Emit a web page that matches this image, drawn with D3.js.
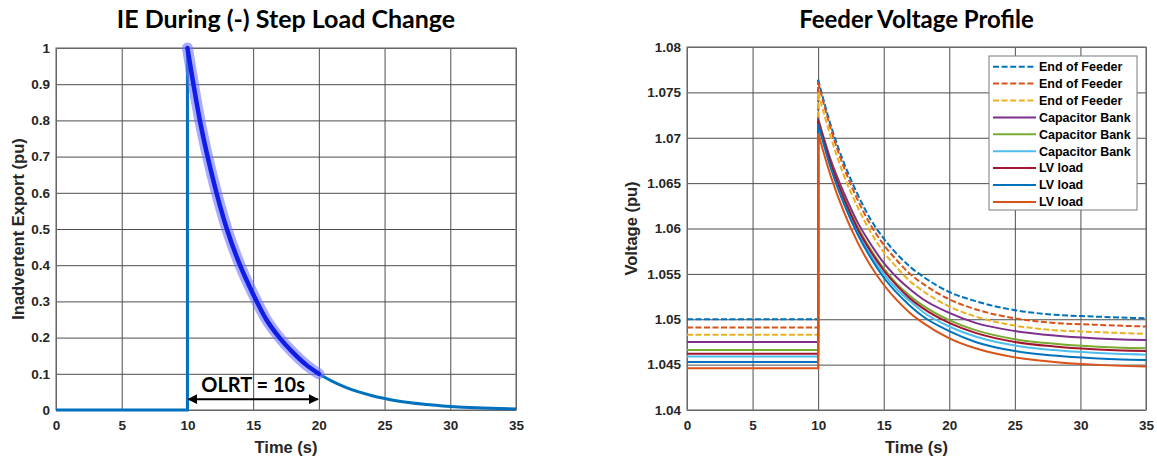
<!DOCTYPE html>
<html>
<head>
<meta charset="utf-8">
<script src="https://cdn.jsdelivr.net/npm/d3@7"></script>
<style>
  body { margin: 0; background: #fff; }
  .tick text { font-family: "Liberation Sans", Arial, sans-serif; font-weight: bold; font-size: 13.5px; fill: #262626; }
  .grid line { stroke: #4d4d4d; stroke-width: 1; }
  .title { font-family: Lato, "Open Sans", sans-serif; font-weight: bold; fill: #000; }
  .axis-label { font-family: "Liberation Sans", Arial, sans-serif; font-weight: bold; font-size: 16.5px; fill: #262626; }
  .legend text { font-family: "Liberation Sans", Arial, sans-serif; font-weight: bold; font-size: 12.5px; fill: #000; }
</style>
</head>
<body>
<div id="canvas"></div>
<script>
// ---- data ----
var xTicks = [0, 5, 10, 15, 20, 25, 30, 35];
var ieTicks = [0, 0.1, 0.2, 0.3, 0.4, 0.5, 0.6, 0.7, 0.8, 0.9, 1];
var vTicks = [1.04, 1.045, 1.05, 1.055, 1.06, 1.065, 1.07, 1.075, 1.08];

// inadvertent export: flat then step at t=10, decay afterwards
var ieStepTimes = [0, 10];
var ieStepValues = [0, 0];
var ieDecayTimes = [10, 11, 12, 13, 14, 15, 16, 17, 18, 19, 20, 22, 24, 26, 28, 30, 32, 35];
var ieDecayValues = [1, 0.79, 0.63, 0.50, 0.40, 0.32, 0.25, 0.20, 0.16, 0.126, 0.10, 0.063, 0.04, 0.025, 0.016, 0.01, 0.006, 0.003];
var olrtStart = 10, olrtEnd = 20;

// feeder voltages
var vStepTimes = [0, 10];
var vDecayTimes = [10, 11, 12, 13, 14, 15, 16, 17, 18, 20, 22, 25, 28, 31, 35];
var seriesNames = ["End of Feeder", "End of Feeder", "End of Feeder",
                   "Capacitor Bank", "Capacitor Bank", "Capacitor Bank",
                   "LV load", "LV load", "LV load"];
var vBase = [1.0500, 1.0491, 1.0483, 1.0475, 1.0466, 1.0459, 1.0462, 1.0453, 1.0446];
var vEoF1 = [1.0764, 1.0712, 1.0671, 1.0638, 1.0610, 1.0589, 1.0572, 1.0558, 1.0547, 1.0530, 1.0520, 1.0510, 1.0505, 1.0503, 1.0501];
var vEoF2 = [1.0761, 1.0708, 1.0666, 1.0632, 1.0604, 1.0582, 1.0565, 1.0550, 1.0539, 1.0522, 1.0511, 1.0501, 1.0496, 1.0494, 1.0492];
var vEoF3 = [1.0750, 1.0699, 1.0657, 1.0624, 1.0596, 1.0574, 1.0557, 1.0542, 1.0531, 1.0514, 1.0503, 1.0493, 1.0488, 1.0486, 1.0484];
var vCap1 = [1.0721, 1.0674, 1.0638, 1.0607, 1.0583, 1.0562, 1.0546, 1.0533, 1.0522, 1.0507, 1.0496, 1.0487, 1.0482, 1.0479, 1.0477];
var vCap2 = [1.0719, 1.0671, 1.0633, 1.0602, 1.0577, 1.0556, 1.0539, 1.0526, 1.0515, 1.0499, 1.0488, 1.0478, 1.0473, 1.0470, 1.0468];
var vCap3 = [1.0716, 1.0667, 1.0629, 1.0597, 1.0571, 1.0550, 1.0533, 1.0520, 1.0508, 1.0492, 1.0481, 1.0471, 1.0466, 1.0463, 1.0461];
var vLv1 = [1.0719, 1.0671, 1.0632, 1.0600, 1.0575, 1.0554, 1.0537, 1.0523, 1.0512, 1.0496, 1.0485, 1.0475, 1.0470, 1.0467, 1.0465];
var vLv2 = [1.0715, 1.0665, 1.0626, 1.0594, 1.0568, 1.0546, 1.0529, 1.0515, 1.0503, 1.0487, 1.0475, 1.0465, 1.0460, 1.0457, 1.0455];
var vLv3 = [1.0705, 1.0656, 1.0617, 1.0585, 1.0559, 1.0538, 1.0521, 1.0507, 1.0496, 1.0479, 1.0468, 1.0458, 1.0453, 1.0450, 1.0448];
var vSeries = [vEoF1, vEoF2, vEoF3, vCap1, vCap2, vCap3, vLv1, vLv2, vLv3];

var seriesColors = ["#0072BD", "#D95319", "#EDB120", "#7E2F8E", "#77AC30", "#4DBEEE", "#A2142F", "#0072BD", "#D95319"];
var seriesDashed = [true, true, true, false, false, false, false, false, false];

function zip(xs, ys) {
    return xs.map(function (t, i) { return [t, ys[i]]; });
}

var svg = d3.select("#canvas").append("svg")
    .attr("width", 1157)
    .attr("height", 460);

svg.append("defs").append("marker")
    .attr("id", "arrow")
    .attr("viewBox", "0 0 10 10")
    .attr("refX", 9)
    .attr("refY", 5)
    .attr("markerWidth", 10)
    .attr("markerHeight", 10)
    .attr("markerUnits", "userSpaceOnUse")
    .attr("orient", "auto-start-reverse")
    .append("path")
    .attr("d", "M0,0 L10,5 L0,10 Z")
    .attr("fill", "#000");

function AddPanel(left, top, right, bottom, yDomain, yTickVals, title, titleSize, yLabel, yLabelOffset) {
    var w = right - left, h = bottom - top;
    var g = svg.append("g").attr("transform", "translate(" + left + "," + top + ")");
    var x = d3.scaleLinear().domain([0, 35]).range([0, w]);
    var y = d3.scaleLinear().domain(yDomain).range([h, 0]);
    var fmt = function (d) { return String(+d.toFixed(4)); };

    g.append("g")
        .attr("class", "grid")
        .attr("transform", "translate(0," + h + ")")
        .call(d3.axisBottom(x).tickValues(xTicks).tickSizeInner(-h).tickSizeOuter(0).tickPadding(10).tickFormat(fmt))
        .call(function (a) { a.select(".domain").remove(); });
    g.append("g")
        .attr("class", "grid")
        .call(d3.axisLeft(y).tickValues(yTickVals).tickSizeInner(-w).tickSizeOuter(0).tickPadding(6).tickFormat(fmt))
        .call(function (a) { a.select(".domain").remove(); });

    g.append("rect")
        .attr("width", w)
        .attr("height", h)
        .attr("fill", "none")
        .attr("stroke", "#7a7a7a")
        .attr("stroke-width", 1.2);

    svg.append("text")
        .attr("class", "title")
        .attr("x", left + w / 2)
        .attr("y", 28)
        .attr("text-anchor", "middle")
        .style("font-size", titleSize + "px")
        .text(title);
    g.append("text")
        .attr("class", "axis-label")
        .attr("x", w / 2)
        .attr("y", h + 43)
        .attr("text-anchor", "middle")
        .text("Time (s)");
    g.append("text")
        .attr("class", "axis-label")
        .attr("transform", "translate(" + yLabelOffset + "," + (h / 2) + ") rotate(-90)")
        .attr("text-anchor", "middle")
        .text(yLabel);

    var plot = g.append("g");
    return { g: plot, x: x, y: y };
}

// ---- left panel ----
var p1 = AddPanel(56, 48, 516, 410, [0, 1], ieTicks, "IE During (-) Step Load Change", 25, "Inadvertent Export (pu)", -32);
var lin1 = d3.line().x(function (d) { return p1.x(d[0]); }).y(function (d) { return p1.y(d[1]); });
var crv1 = d3.line().curve(d3.curveMonotoneX).x(function (d) { return p1.x(d[0]); }).y(function (d) { return p1.y(d[1]); });

var stepPts = zip(ieStepTimes, ieStepValues).concat([[ieDecayTimes[0], ieDecayValues[0]]]);
var decayPts = zip(ieDecayTimes, ieDecayValues);
p1.g.append("path").attr("d", lin1(stepPts))
    .attr("fill", "none").attr("stroke", "#0072BD").attr("stroke-width", 3);
p1.g.append("path").attr("d", crv1(decayPts))
    .attr("fill", "none").attr("stroke", "#0072BD").attr("stroke-width", 3);

var hiPts = decayPts.filter(function (d) { return d[0] >= olrtStart && d[0] <= olrtEnd; });
p1.g.append("path").attr("d", crv1(hiPts))
    .attr("fill", "none").attr("stroke", "#7373ff").attr("stroke-opacity", 0.6)
    .attr("stroke-width", 11).attr("stroke-linecap", "round");
p1.g.append("path").attr("d", crv1(hiPts))
    .attr("fill", "none").attr("stroke", "#0f1ee6")
    .attr("stroke-width", 4.5).attr("stroke-linecap", "round");

p1.g.append("line")
    .attr("x1", p1.x(olrtStart) + 1).attr("x2", p1.x(olrtEnd) - 1)
    .attr("y1", p1.y(0.03)).attr("y2", p1.y(0.03))
    .attr("stroke", "#000").attr("stroke-width", 2)
    .attr("marker-start", "url(#arrow)").attr("marker-end", "url(#arrow)");
p1.g.append("text")
    .attr("x", p1.x((olrtStart + olrtEnd) / 2))
    .attr("y", p1.y(0.05))
    .attr("text-anchor", "middle")
    .style("font-family", "Lato, 'Open Sans', sans-serif")
    .style("font-weight", "bold")
    .style("font-size", "20px")
    .text("OLRT = " + (olrtEnd - olrtStart) + "s");

// ---- right panel ----
var p2 = AddPanel(687, 47, 1146, 410, [1.04, 1.08], vTicks, "Feeder Voltage Profile", 24, "Voltage (pu)", -50);
var lin2 = d3.line().x(function (d) { return p2.x(d[0]); }).y(function (d) { return p2.y(d[1]); });
var crv2 = d3.line().curve(d3.curveMonotoneX).x(function (d) { return p2.x(d[0]); }).y(function (d) { return p2.y(d[1]); });

vSeries.forEach(function (vals, i) {
    var s = p2.g.append("g")
        .attr("fill", "none")
        .attr("stroke", seriesColors[i])
        .attr("stroke-width", 2)
        .attr("stroke-dasharray", seriesDashed[i] ? "6,2.5" : null);
    var pre = zip(vStepTimes, [vBase[i], vBase[i]]).concat([[vDecayTimes[0], vals[0]]]);
    s.append("path").attr("d", lin2(pre));
    s.append("path").attr("d", crv2(zip(vDecayTimes, vals)));
});

// legend
var legend = svg.append("g").attr("class", "legend").attr("transform", "translate(989,56)");
legend.append("rect")
    .attr("width", 148)
    .attr("height", 154)
    .attr("fill", "#fff")
    .attr("stroke", "#7a7a7a");
seriesNames.forEach(function (name, i) {
    var row = legend.append("g").attr("transform", "translate(0," + (10.7 + i * 16.9) + ")");
    row.append("line")
        .attr("x1", 4).attr("x2", 47)
        .attr("stroke", seriesColors[i])
        .attr("stroke-width", 2)
        .attr("stroke-dasharray", seriesDashed[i] ? "6,2.6" : null);
    row.append("text")
        .attr("x", 50)
        .attr("dy", "0.35em")
        .text(name);
});
</script>
</body>
</html>
